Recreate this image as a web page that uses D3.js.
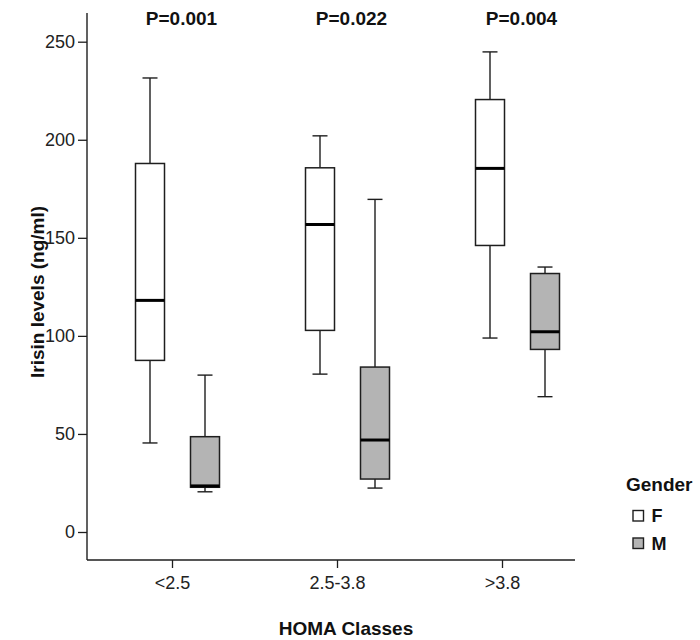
<!DOCTYPE html>
<html>
<head>
<meta charset="utf-8">
<script src="https://cdn.jsdelivr.net/npm/d3@7/dist/d3.min.js"></script>
<style>
  html, body { margin: 0; padding: 0; background: #fff; }
  svg { display: block; font-family: "Liberation Sans", Arial, sans-serif; }
</style>
</head>
<body>
<svg id="chart" width="700" height="640"></svg>
<script>
// ---- data ----
const categories = ["<2.5", "2.5-3.8", ">3.8"];
const genders = ["F", "M"];
const pValues = ["P=0.001", "P=0.022", "P=0.004"];
const yTicks = [0, 50, 100, 150, 200, 250];
// [min, q1, median, q3, max] per HOMA class
const femaleStats = [
  [45.4, 87.5, 118.1, 187.9, 231.5],
  [80.5, 102.8, 156.8, 185.7, 202.0],
  [98.9, 146.1, 185.4, 220.5, 244.8]
];
const maleStats = [
  [20.5, 22.8, 23.5, 48.6, 80.0],
  [22.4, 27.0, 46.9, 84.1, 169.6],
  [69.0, 93.1, 102.1, 131.8, 135.1]
];
const genderFill = ["#ffffff", "#b4b4b4"];

// ---- layout ----
const svg = d3.select("#chart");
const frame = { left: 87, right: 575, top: 13, bottom: 560 };
const ink = "#1e1e1e";

const y = d3.scaleLinear().domain([0, 250]).range([532, 41.7]);
const xTick = d3.scalePoint().domain(categories).range([172, 502]);
const xBox = d3.scalePoint().domain(categories).range([177.5, 517.5]);
const xGender = d3.scalePoint().domain(genders).range([-27.5, 27.5]);
const boxW = 29, capW = 15;

// axes lines
svg.append("line").attr("x1", frame.left).attr("x2", frame.left)
  .attr("y1", frame.top).attr("y2", frame.bottom)
  .attr("stroke", ink).attr("stroke-width", 1.4);
svg.append("line").attr("x1", frame.left).attr("x2", frame.right)
  .attr("y1", frame.bottom).attr("y2", frame.bottom)
  .attr("stroke", ink).attr("stroke-width", 1.4);

// y axis
const yAxis = svg.append("g").attr("transform", `translate(${frame.left},0)`)
  .call(d3.axisLeft(y).tickValues(yTicks).tickSize(9).tickPadding(3).tickFormat(d3.format("d")));
yAxis.select(".domain").remove();
yAxis.selectAll("line").attr("stroke", ink).attr("stroke-width", 1.3);
yAxis.selectAll("text").attr("font-size", 18).attr("fill", "#222")
  .attr("font-family", "'Liberation Sans', Arial, sans-serif");

// x axis
const xAxis = svg.append("g").attr("transform", `translate(0,${frame.bottom})`)
  .call(d3.axisBottom(xTick).tickSize(8).tickPadding(8));
xAxis.select(".domain").remove();
xAxis.selectAll("line").attr("stroke", ink).attr("stroke-width", 1.3);
xAxis.selectAll("text").attr("font-size", 18).attr("fill", "#222")
  .attr("font-family", "'Liberation Sans', Arial, sans-serif");

// axis titles
svg.append("text").attr("x", 346).attr("y", 635).attr("text-anchor", "middle")
  .attr("font-size", 19).attr("font-weight", "bold").attr("fill", "#111")
  .text("HOMA Classes");
svg.append("text").attr("transform", "translate(44,292) rotate(-90)")
  .attr("text-anchor", "middle")
  .attr("font-size", 19).attr("font-weight", "bold").attr("fill", "#111")
  .text("Irisin levels (ng/ml)");

// P values
svg.selectAll(".pval").data(categories).join("text")
  .attr("class", "pval")
  .attr("x", d => xBox(d) + 4).attr("y", 25)
  .attr("text-anchor", "middle")
  .attr("font-size", 19).attr("font-weight", "bold").attr("fill", "#111")
  .text((d, i) => pValues[i]);

// boxes
const series = [femaleStats, maleStats];
genders.forEach((g, gi) => {
  const grp = svg.append("g");
  categories.forEach((c, ci) => {
    const [mn, q1, med, q3, mx] = series[gi][ci];
    const cx = xBox(c) + xGender(g);
    const b = grp.append("g");
    // whiskers
    b.append("line").attr("x1", cx).attr("x2", cx).attr("y1", y(q3)).attr("y2", y(mx))
      .attr("stroke", ink).attr("stroke-width", 1.4);
    b.append("line").attr("x1", cx).attr("x2", cx).attr("y1", y(q1)).attr("y2", y(mn))
      .attr("stroke", ink).attr("stroke-width", 1.4);
    b.append("line").attr("x1", cx - capW / 2).attr("x2", cx + capW / 2).attr("y1", y(mx)).attr("y2", y(mx))
      .attr("stroke", ink).attr("stroke-width", 1.4);
    b.append("line").attr("x1", cx - capW / 2).attr("x2", cx + capW / 2).attr("y1", y(mn)).attr("y2", y(mn))
      .attr("stroke", ink).attr("stroke-width", 1.4);
    // box
    b.append("rect").attr("x", cx - boxW / 2).attr("width", boxW)
      .attr("y", y(q3)).attr("height", y(q1) - y(q3))
      .attr("fill", genderFill[gi]).attr("stroke", ink).attr("stroke-width", 1.5);
    // median
    b.append("line").attr("x1", cx - boxW / 2).attr("x2", cx + boxW / 2).attr("y1", y(med)).attr("y2", y(med))
      .attr("stroke", "#000").attr("stroke-width", 3);
  });
});

// legend
const legend = svg.append("g");
legend.append("text").attr("x", 626).attr("y", 491)
  .attr("font-size", 19).attr("font-weight", "bold").attr("fill", "#111").text("Gender");
genders.forEach((g, gi) => {
  const ly = 510.5 + gi * 27.5;
  legend.append("rect").attr("x", 633).attr("y", ly).attr("width", 10.5).attr("height", 10.5)
    .attr("fill", genderFill[gi]).attr("stroke", ink).attr("stroke-width", 1.4);
  legend.append("text").attr("x", 651.5).attr("y", ly + 11.5)
    .attr("font-size", 18).attr("font-weight", "bold").attr("fill", "#111").text(g);
});
</script>
</body>
</html>
